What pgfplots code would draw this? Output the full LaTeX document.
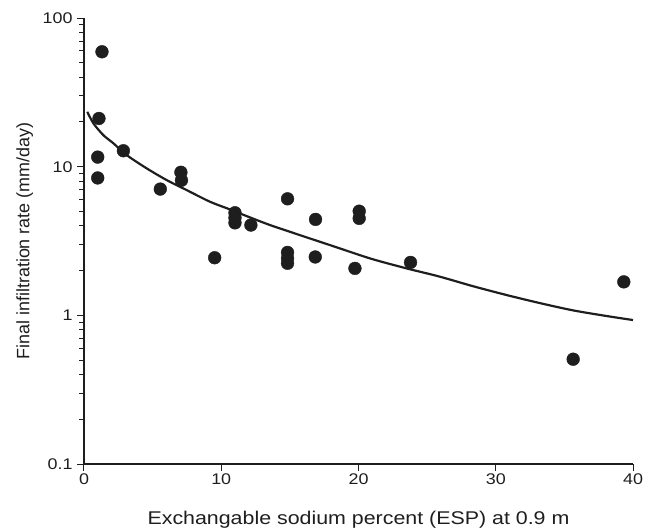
\documentclass[border=0pt]{standalone}
\usepackage{fontspec}
\setmainfont{Liberation Sans}
\newfontfamily\wide[FakeStretch=1.16]{Liberation Sans}
\usepackage{pgfplots}
\pgfplotsset{compat=1.18}
\definecolor{ink}{HTML}{1E1E1E}
\begin{document}
\begin{tikzpicture}
\begin{axis}[
  scale only axis,
  width=549bp, height=446bp,
  xmin=0, xmax=40, ymode=log, ymin=0.1, ymax=100,
  axis x line*=bottom, axis y line*=left,
  axis line style={ink, line width=1.1pt},
  xtick={0,10,20,30,40},
  ytick={0.1,1,10,100},
  yticklabels={0.1,1,10,100},
  xticklabels={0,10,20,30,40},
  tick align=outside,
  major tick length=6.5bp, minor tick length=4.5bp,
  tick style={ink, line width=1pt},
  every tick label/.append style={font=\wide\fontsize{15.5}{18}\selectfont, text=ink},
  yticklabel style={xshift=-1.5bp},
  ylabel={Final infiltration rate (mm/day)},
  xlabel={Exchangable sodium percent (ESP) at 0.9 m},
  xlabel style={font=\wide\fontsize{18.5}{21}\selectfont, text=ink,
    at={(rel axis cs:0.5,-0.1345)}, anchor=base},
  ylabel style={font=\fontsize{18}{21}\selectfont, text=ink,
    at={(rel axis cs:-0.108,0.50)}, anchor=center},
  clip=false,
]
\addplot[only marks, mark=*, mark size=6.4bp, ink, mark options={fill=ink, draw=ink}] coordinates {
(1.31,59.3) (1.09,21.1) (1.0,11.6) (1.0,8.4) (2.87,12.8) (5.56,7.07)
(7.06,9.17) (7.10,8.1) (11.0,4.9) (11.0,4.53) (11.0,4.19) (12.16,4.05)
(9.52,2.44) (14.83,6.08) (14.83,2.65) (14.83,2.42) (14.83,2.24)
(16.87,4.42) (16.85,2.47) (20.05,5.02) (20.05,4.49) (19.74,2.07)
(23.79,2.27) (35.64,0.507) (39.33,1.68)
};
\addplot[ink, line width=2.2pt, smooth] coordinates {
(0.24,23.4) (0.68,19.6) (1.41,16.3) (2.13,14.4) (3.11,11.97) (4.57,9.74)
(6.02,8.13) (7.48,6.96) (9.18,5.81) (10.63,5.16) (12.09,4.56) (13.55,4.05)
(15.0,3.65) (16.46,3.29) (17.92,2.97) (19.25,2.70) (21.07,2.38) (23.5,2.07)
(25.93,1.82) (28.35,1.57) (30.79,1.37) (33.2,1.21) (35.64,1.08) (38.07,0.99) (40,0.93)
};
\path (rel axis cs:-0.153,-0.1457) rectangle (rel axis cs:1.0346,1.0404);
\end{axis}
\end{tikzpicture}
\end{document}
